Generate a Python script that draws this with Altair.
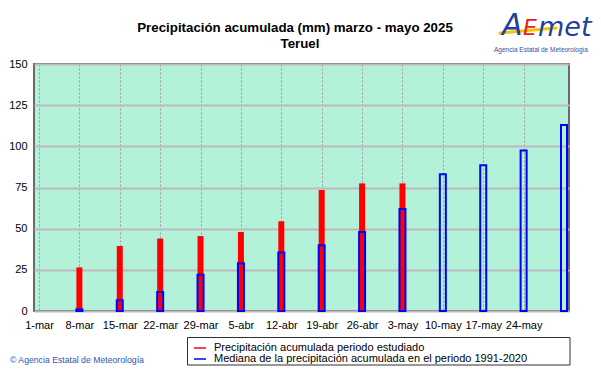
import altair as alt
import pandas as pd

# ---- data ----
x_labels = ['1-mar', '8-mar', '15-mar', '22-mar', '29-mar', '5-abr', '12-abr',
            '19-abr', '26-abr', '3-may', '10-may', '17-may', '24-may']
tick_days = [0, 7, 14, 21, 28, 35, 42, 49, 56, 63, 70, 77, 84]
bar_days = [7, 14, 21, 28, 35, 42, 49, 56, 63, 70, 77, 84, 91]
precip_2025 = [26.5, 39.5, 44, 45.5, 48, 54.5, 73.5, 77.5, 77.5]
mediana = [1, 6.5, 11.5, 22, 29, 35.5, 40, 48, 62, 83, 88.5, 97.5, 113]
y_ticks = [0, 25, 50, 75, 100, 125, 150]

serie_red = 'Precipitación acumulada periodo estudiado'
serie_blue = 'Mediana de la precipitación acumulada en el periodo 1991-2020'
title_1 = 'Precipitación acumulada (mm) marzo - mayo 2025'
title_2 = 'Teruel'
copyright_txt = '© Agencia Estatal de Meteorología'
logo_small = 'Agencia Estatal de Meteorología'

df_red = pd.DataFrame({'dia': bar_days[:len(precip_2025)], 'valor': precip_2025})
df_blue = pd.DataFrame({'dia': bar_days, 'valor': mediana})

label_array = "[" + ",".join("'%s'" % l for l in x_labels) + "]"

x_scale = alt.Scale(domain=[0, 91], nice=False, zero=False)
y_scale = alt.Scale(domain=[0, 150], nice=False)

x_axis = alt.Axis(values=tick_days, labelExpr=label_array + "[round(datum.value/7)]",
                  title=None, ticks=False, labelPadding=8, labelFontSize=11,
                  labelColor='black', domain=False, grid=True, gridColor='#9a9a9a',
                  gridDash=[2, 2], gridWidth=1, labelOverlap=False, labelFlush=False)
y_axis = alt.Axis(values=y_ticks, title=None, ticks=False, labelPadding=7,
                  labelFontSize=11, labelColor='black', domain=False, grid=True,
                  gridColor='#bdb8c2', gridWidth=2)

red = alt.Chart(df_red).mark_bar(size=6, color='#ff0000').encode(
    x=alt.X('dia:Q', scale=x_scale, axis=x_axis),
    y=alt.Y('valor:Q', scale=y_scale, axis=y_axis),
)
blue = alt.Chart(df_blue).mark_bar(size=6, fillOpacity=0, stroke='#0000ff',
                                   strokeWidth=2).encode(
    x=alt.X('dia:Q', scale=x_scale),
    y=alt.Y('valor:Q', scale=y_scale),
)

leg_common = dict(title=None, orient='none', legendX=159, labelFontSize=11,
                  labelColor='black', symbolType='stroke', symbolSize=144,
                  symbolStrokeWidth=1.5, labelOffset=7, padding=0, labelLimit=500)

legend_red = alt.Chart(pd.DataFrame({'serie': [serie_red]})).mark_rule(
    strokeWidth=2).encode(
    color=alt.Color('serie:N',
                    scale=alt.Scale(domain=[serie_red], range=['#ff0000']),
                    legend=alt.Legend(legendY=277, **leg_common)),
    x=alt.value(0), x2=alt.value(0), y=alt.value(0), y2=alt.value(0),
)
legend_blue = alt.Chart(pd.DataFrame({'serie': [serie_blue]})).mark_rule(
    strokeWidth=2).encode(
    stroke=alt.Stroke('serie:N',
                      scale=alt.Scale(domain=[serie_blue], range=['#0000ff']),
                      legend=alt.Legend(legendY=288, **leg_common)),
    x=alt.value(0), x2=alt.value(0), y=alt.value(0), y2=alt.value(0),
)

legend_box = alt.Chart(pd.DataFrame({'a': [0]})).mark_rect(
    fill='white', stroke='#303030', strokeWidth=1).encode(
    x=alt.value(153.5), x2=alt.value(536), y=alt.value(273.5), y2=alt.value(301))


def txt(s, x, y, **kw):
    return alt.Chart(pd.DataFrame({'t': [s]})).mark_text(**kw).encode(
        x=alt.value(x), y=alt.value(y), text='t:N')


t1 = txt(title_1, 261, -32, fontSize=13.3, fontWeight='bold', align='center',
         baseline='alphabetic', color='black')
t2 = txt(title_2, 266, -16, fontSize=13.3, fontWeight='bold', align='center',
         baseline='alphabetic', color='black')
copy_t = txt(copyright_txt, -24, 299, fontSize=8.7, align='left',
             baseline='alphabetic', color='#2f55b0')
swoosh = alt.Chart(pd.DataFrame({'a': [0]})).mark_rule(
    color='#f5c400', strokeWidth=3, strokeCap='round').encode(
    x=alt.value(466), x2=alt.value(522), y=alt.value(-31), y2=alt.value(-36))
logo_a = txt('A', 468, -29, fontSize=30, fontStyle='italic', align='left',
             baseline='alphabetic', color='#1f3f9f', font='DejaVu Sans')
logo_e = txt('E', 489, -29, fontSize=22, fontStyle='italic', align='left',
             baseline='alphabetic', color='#e8201c', font='DejaVu Sans')
logo_m = txt('met', 504, -28, fontSize=27, fontStyle='italic', align='left',
             baseline='alphabetic', color='#1f3f9f', font='DejaVu Sans')
logo_s = txt(logo_small, 507, -12, fontSize=6.5, align='center',
             baseline='alphabetic', color='#3050a0')

chart = alt.layer(red, blue, legend_box, legend_red, legend_blue, t1, t2, copy_t,
                  swoosh, logo_a, logo_e, logo_m, logo_s).properties(
    width=535, height=247,
    autosize=alt.AutoSizeParams(type='none'),
    padding={'left': 26, 'top': 56, 'right': 24, 'bottom': 55},
).configure(font='Liberation Sans').configure_view(
    fill='#b3f1d8', stroke='#6a6a6a', strokeWidth=2)

chart.save('out.html', embed_options={'renderer': 'svg', 'actions': False})
